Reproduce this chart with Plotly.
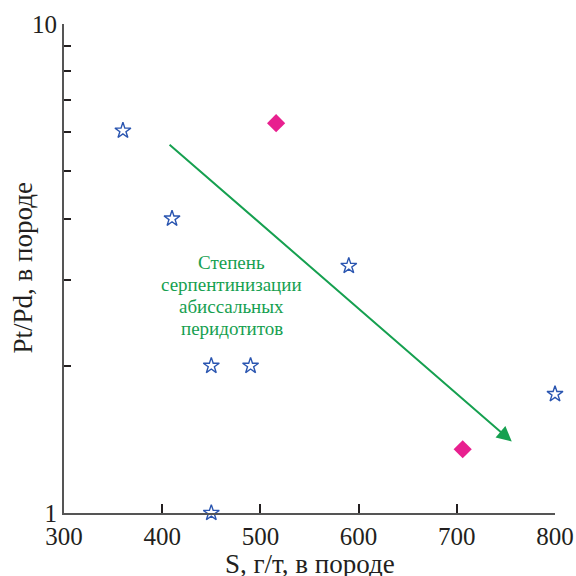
import math
import plotly.graph_objects as go

# S content (g/t) and Pt/Pd ratio in the rock
star_s = [360, 410, 590, 450, 490, 800, 450]
star_ptpd = [6.05, 4.0, 3.2, 2.0, 2.0, 1.75, 1.0]

diamond_s = [516, 706]
diamond_ptpd = [6.27, 1.35]

# serpentinization trend arrow (start -> end)
arrow_s = [406, 756]
arrow_ptpd = [5.7, 1.4]

label_lines = ["Степень", "серпентинизации", "абиссальных", "перидотитов"]

x_ticks = [300, 400, 500, 600, 700, 800]
y_ticks = [1, 10]
y_minor = [2, 3, 4, 5, 6, 7, 8, 9]

SERIF = "Liberation Serif, Times New Roman, serif"
AXIS_COLOR = "#555555"
TEXT_COLOR = "#231f20"
GREEN = "#16a050"

fig = go.Figure()

fig.add_trace(go.Scatter(
    x=star_s, y=star_ptpd, mode="markers",
    marker=dict(symbol="star-open", size=12, color="#2a55b0",
                line=dict(width=1.4, color="#2a55b0")),
    cliponaxis=False, showlegend=False,
))
fig.add_trace(go.Scatter(
    x=diamond_s, y=diamond_ptpd, mode="markers",
    marker=dict(symbol="diamond", size=14, color="#e8208f",
                line=dict(width=0)),
    cliponaxis=False, showlegend=False,
))

fig.add_annotation(
    x=arrow_s[1], y=math.log10(arrow_ptpd[1]),
    ax=arrow_s[0], ay=math.log10(arrow_ptpd[0]),
    xref="x", yref="y", axref="x", ayref="y",
    showarrow=True, arrowhead=2, arrowsize=1.5, arrowwidth=2,
    arrowcolor=GREEN, text="",
)

# multi-line label, one line per annotation for tight line spacing
line_gap = 22
n = len(label_lines)
for i, line in enumerate(label_lines):
    fig.add_annotation(
        x=471, y=math.log10(2.78), xref="x", yref="y",
        text=line, showarrow=False,
        yshift=((n - 1) / 2 - i) * line_gap,
        font=dict(family=SERIF, size=19, color=GREEN),
    )

# axis titles
fig.add_annotation(
    x=0.5, y=-0.105, xref="paper", yref="paper", yanchor="middle",
    text="S, г/т, в породе", showarrow=False,
    font=dict(family=SERIF, size=27, color=TEXT_COLOR),
)
fig.add_annotation(
    x=-0.0855, y=0.5, xref="paper", yref="paper", xanchor="center",
    text="Pt/Pd, в породе", showarrow=False, textangle=-90,
    font=dict(family=SERIF, size=27, color=TEXT_COLOR),
)

fig.update_xaxes(
    range=[300, 800], tickvals=x_ticks, automargin=False,
    showline=True, linecolor=AXIS_COLOR, linewidth=2,
    ticks="inside", ticklen=9, tickwidth=2, tickcolor=TEXT_COLOR,
    showgrid=False, zeroline=False,
    tickfont=dict(family=SERIF, size=25, color=TEXT_COLOR),
)
fig.update_yaxes(
    type="log", range=[0, 1], tickvals=y_ticks, ticktext=["1", "10"],
    automargin=False,
    showline=True, linecolor=AXIS_COLOR, linewidth=2,
    ticks="inside", ticklen=10, tickwidth=2, tickcolor=TEXT_COLOR,
    minor=dict(tickvals=y_minor, ticks="inside", ticklen=7,
               tickwidth=2, tickcolor=TEXT_COLOR, showgrid=False),
    showgrid=False, zeroline=False,
    tickfont=dict(family=SERIF, size=25, color=TEXT_COLOR),
)

fig.update_layout(
    width=576, height=576,
    margin=dict(l=64, r=21, t=24, b=63),
    plot_bgcolor="white", paper_bgcolor="white",
)

fig.write_html("out.html")
